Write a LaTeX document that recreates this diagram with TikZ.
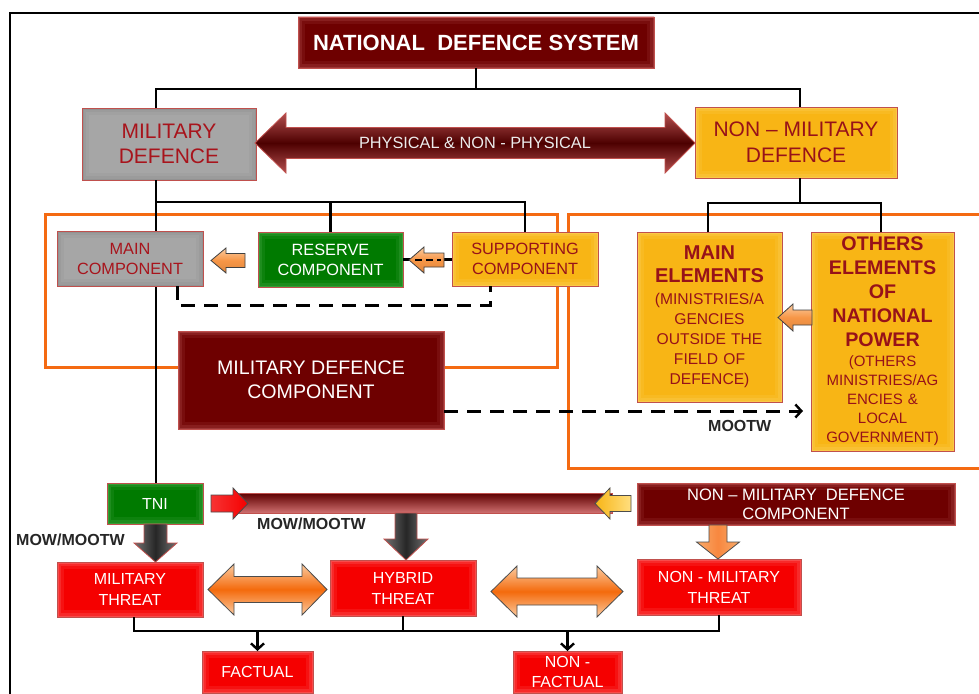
\documentclass[tikz,border=0pt]{standalone}
\usepackage{fontspec}
\setmainfont{Liberation Sans}
\usetikzlibrary{arrows.meta}
\definecolor{cmaroon}{HTML}{6E0000}
\definecolor{cmaroonglow}{HTML}{D07070}
\definecolor{cbord}{HTML}{C0504D}
\definecolor{cgray}{HTML}{A6A6A6}
\definecolor{cgrayglow}{HTML}{808080}
\definecolor{cyellow}{HTML}{F8B515}
\definecolor{cyellowglow}{HTML}{FFDF80}
\definecolor{cgreen}{HTML}{007A00}
\definecolor{cgreenglow}{HTML}{70C070}
\definecolor{cred}{HTML}{F50000}
\definecolor{credglow}{HTML}{FF9A9A}
\definecolor{ctext}{HTML}{A8141C}
\definecolor{cframe}{HTML}{F46A12}
\definecolor{corange}{HTML}{F79646}
\definecolor{corangelt}{HTML}{FBCBA0}
\definecolor{cthreatarr}{HTML}{F46A0C}
\newcommand\myfs[2]{\fontsize{#1}{#2}\selectfont}
% block arrow pointing horizontally: style, tip x, y, head base x, end x, half head, half body
\newcommand\blockh[7]{\path[#1] (#2,#3) -- (#4,#3-#6) -- (#4,#3-#7) -- (#5,#3-#7) -- (#5,#3+#7) -- (#4,#3+#7) -- (#4,#3+#6) -- cycle;}
% block arrow pointing down: style, x, tip y, head base y, end y, half head, half body
\newcommand\blockv[7]{\path[#1] (#2,#3) -- (#2-#6,#4) -- (#2-#7,#4) -- (#2-#7,#5) -- (#2+#7,#5) -- (#2+#7,#4) -- (#2+#6,#4) -- cycle;}
% double block arrow: style, left tip, left base, right base, right tip, y, half head, half body
\newcommand\blockd[8]{\path[#1] (#2,#6) -- (#3,#6-#7) -- (#3,#6-#8) -- (#4,#6-#8) -- (#4,#6-#7) -- (#5,#6) -- (#4,#6+#7) -- (#4,#6+#8) -- (#3,#6+#8) -- (#3,#6+#7) -- cycle;}
\begin{document}
\begin{tikzpicture}[x=1pt,y=-1pt,
  bx/.style={rectangle, inner sep=0pt, outer sep=0pt, align=center, line width=0.8pt},
  glow/.style={path picture={\foreach \w/\o in {14/0.12,8/0.18,3/0.3}{\draw[#1,line width=\w pt,opacity=\o] (path picture bounding box.south west) rectangle (path picture bounding box.north east);}}},
  maroonbox/.style={bx, fill=cmaroon, draw=cbord, glow=cmaroonglow, text=white},
  graybox/.style={bx, fill=cgray, draw=cbord, glow=cgrayglow, text=ctext},
  yellowbox/.style={bx, fill=cyellow, draw=cbord, glow=cyellowglow, text=ctext!90!black},
  greenbox/.style={bx, fill=cgreen, draw=cbord, glow=cgreenglow, text=white},
  redbox/.style={bx, fill=cred, draw=cbord, glow=credglow, text=white},
  conn/.style={line width=2.8pt, black},
  dashconn/.style={line width=3pt, black, dash pattern=on 14pt off 9pt},
  oframe/.style={line width=3pt, cframe},
  lbl/.style={font=\bfseries\myfs{16}{19}, text=black!85, inner sep=0pt},
  smallarr/.style={draw=black!75, line width=0.8pt, top color=corangelt, bottom color=corange!90!black, middle color=corange},
  threatarr/.style={draw=black!70, line width=0.8pt, top color=corangelt, bottom color=corangelt, middle color=cthreatarr},
  grayarr/.style={draw=cbord, line width=0.8pt, left color=black!55, right color=black!55, middle color=black!85},
  tip/.style={-{Straight Barb[length=6pt,width=13pt,line width=2.4pt]}}
]
\clip (0,0) rectangle (979,693);
\fill[white] (0,0) rectangle (979,693);
% outer frame
\draw[line width=2pt] (10,700) -- (10,13) -- (990,13);
% orange frames
\draw[oframe] (45,214) rectangle (557,367);
\draw[oframe] (568,214) rectangle (995,468);

% ---------- nodes ----------
\node[maroonbox, minimum width=356pt, minimum height=51pt, font=\bfseries\myfs{22}{26}] (nds) at (476,42.5) {NATIONAL\ \ DEFENCE SYSTEM};
\node[graybox, minimum width=174pt, minimum height=72pt, font=\myfs{21}{25.7}] (mil) at (169,144) {MILITARY\\DEFENCE};
\node[yellowbox, minimum width=202pt, minimum height=71pt, font=\myfs{21}{25.7}] (nmil) at (796,142.5) {NON -- MILITARY\\DEFENCE};

% connectors top
\coordinate (j0) at (476,89);
\draw[conn] (nds.south) -- (j0);
\draw[conn] ([xshift=-13pt]mil.north) |- (j0) -| ([xshift=4pt]nmil.north);

% physical arrow
\blockd{draw=cbord, line width=0.8pt, top color=cmaroonglow!70!cmaroon, bottom color=cmaroonglow!70!cmaroon, middle color=cmaroon!70!black}{255}{286}{665}{695}{143}{30}{15.5}
\node[font=\myfs{16.3}{19}, text=white!92!black, inner sep=0pt] (phys) at (475,143) {PHYSICAL \& NON - PHYSICAL};

% military branches
\coordinate (j1) at (156,202);
\node[greenbox, minimum width=96pt, minimum height=41pt, font=\myfs{16}{19}] (tni) at (155,503.5) {TNI};
\draw[conn] (mil.south -| j1) -- (tni.north -| j1);
\node[greenbox, minimum width=145pt, minimum height=55pt, font=\myfs{16.3}{20}] (rc) at (330.5,259.5) {RESERVE\\COMPONENT};
\node[yellowbox, minimum width=146pt, minimum height=54pt, font=\myfs{16.3}{20}] (sc) at (525,259) {SUPPORTING\\COMPONENT};
\draw[conn] (j1) -| (rc.north);
\draw[conn] (j1) -| (sc.north);
\node[graybox, minimum width=146pt, minimum height=55pt, font=\myfs{16.3}{20}] (mc) at (130,258.5) {MAIN\\COMPONENT};

% dashed mc - sc
\draw[dashconn] ([xshift=47pt]mc.south) -- ++(0,19) -| ([xshift=-35pt]sc.south);

% reserve <- supporting
\draw[conn] (rc.east) -- (rc.east -| sc.west);
\blockh{smallarr}{409}{260}{424}{444}{13}{7}
\draw[line width=2.4pt, dash pattern=on 7pt off 4pt] (415,260) -- (441,260);
% main <- reserve
\blockh{smallarr}{211}{260.5}{226}{245}{12.5}{7}

% non-military branches
\node[yellowbox, minimum width=145pt, minimum height=170pt, text width=143pt, text=ctext!90!black, font=\myfs{15.6}{20}] (me) at (709.5,317)
  {\bfseries\myfs{20}{20}MAIN\\[3pt]ELEMENTS\\[2pt]\mdseries\myfs{15.6}{20}(MINISTRIES/A\\GENCIES\\OUTSIDE THE\\FIELD OF\\DEFENCE)};
\node[yellowbox, minimum width=143pt, minimum height=219pt, text width=141pt, text=ctext!90!black, font=\myfs{15}{19.2}] (oe) at (882.5,341.5)
  {\bfseries\myfs{19.7}{19.2}OTHERS\\[4.8pt]ELEMENTS\\[4.8pt]OF\\[4.8pt]NATIONAL\\[4.8pt]POWER\\\mdseries\myfs{15}{19.2}(OTHERS\\MINISTRIES/AG\\ENCIES \&\\LOCAL\\GOVERNMENT)};
\coordinate (j2) at (800,203);
\draw[conn] (nmil.south -| j2) -- (j2);
\draw[conn] ([xshift=-1.5pt]me.north) |- (j2) -| ([xshift=-1.5pt]oe.north);
\blockh{smallarr}{778}{317.5}{793}{812}{13.5}{7.5}

% military defence component
\node[maroonbox, minimum width=266pt, minimum height=98pt, font=\myfs{19.6}{24.3}] (mdc) at (311,380) {MILITARY DEFENCE\\COMPONENT};
\draw[dashconn, tip, shorten >=8pt] ([yshift=-31pt]mdc.east) -- ([yshift=-31pt]mdc.east -| oe.west);
\node[lbl, anchor=base west] (mootw) at (708,431) {MOOTW};

% lower part
\node[maroonbox, minimum width=318pt, minimum height=42pt, font=\myfs{16.5}{19}] (nmdc) at (796,504) {NON -- MILITARY\ \ DEFENCE\\COMPONENT};
% bar
\shade[top color=cmaroon!85!black, bottom color=cmaroonglow, draw=cbord, line width=0.8pt] (238,493) rectangle (612,513);
\blockh{draw=black!70, line width=0.8pt, left color=cred!80, right color=cred}{248}{503.5}{233}{211}{15.5}{8.5}
\blockh{draw=black!70, line width=0.8pt, left color=cyellow, right color=cyellowglow}{595}{503.5}{610}{631}{15.5}{8}
\node[lbl, anchor=base west] (mow1) at (257,529) {MOW/MOOTW};
\node[lbl, anchor=base west] (mow2) at (16,545) {MOW/MOOTW};

\node[redbox, minimum width=146pt, minimum height=55pt, font=\myfs{16}{21}] (mt) at (130,589.5) {MILITARY\\THREAT};
\node[redbox, minimum width=146pt, minimum height=56pt, font=\myfs{16}{21}] (ht) at (403,588) {HYBRID\\THREAT};
\node[redbox, minimum width=164pt, minimum height=56pt, font=\myfs{16}{21}] (nmt) at (719,587) {NON - MILITARY\\THREAT};

\blockv{grayarr}{155.5}{562}{543}{524}{21.5}{11.5}
\blockv{grayarr}{406}{560}{539}{513}{22}{11}
\blockv{draw=black!70, line width=0.8pt, left color=corange!80!white, right color=corange!80!white, middle color=corange!90!red}{718}{559}{542}{525}{21.5}{9}

\blockd{threatarr}{208}{234}{302}{327}{589.5}{25.5}{13}
\blockd{threatarr}{491}{517}{597}{623}{591.5}{25.5}{13.5}

\node[redbox, minimum width=111pt, minimum height=42pt, font=\myfs{16}{20}] (fa) at (257.5,672) {FACTUAL};
\node[redbox, minimum width=109pt, minimum height=42pt, font=\myfs{16}{20}] (nf) at (567.5,672) {NON -\\FACTUAL};

\coordinate (jb) at (402,631);
\draw[conn] ([xshift=4pt]mt.south) |- (jb) -| (nmt.south);
\draw[conn] (ht.south) -- (ht.south |- jb);
\draw[conn, line width=2.2pt, tip] (fa.north |- jb) -- (fa.north);
\draw[conn, line width=2.2pt, tip] (nf.north |- jb) -- (nf.north);
\end{tikzpicture}
\end{document}
